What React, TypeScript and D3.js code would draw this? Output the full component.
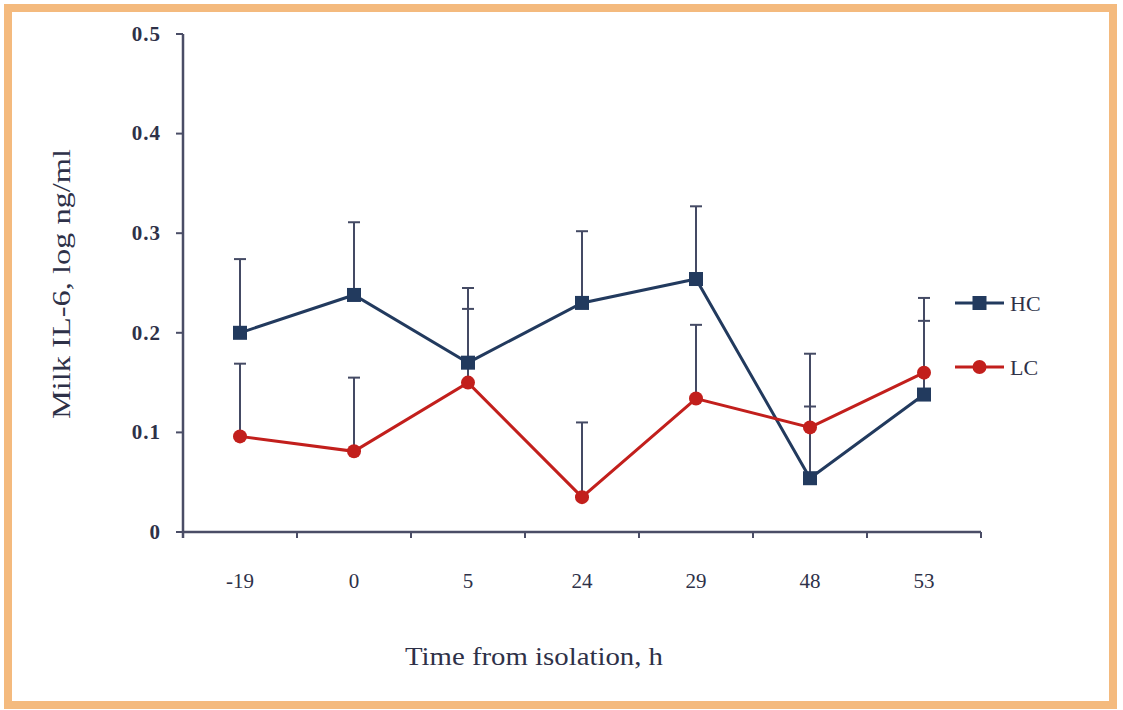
import React from "react";
import * as d3 from "d3";

// Sampling times (h from isolation)
const times = ["-19", "0", "5", "24", "29", "48", "53"];

// Group means, log ng/ml
const hcMean = [0.2, 0.238, 0.17, 0.23, 0.254, 0.054, 0.138];
const lcMean = [0.096, 0.081, 0.15, 0.035, 0.134, 0.105, 0.16];

// Upper end of each error bar (mean + SE)
const hcUpper = [0.274, 0.311, 0.245, 0.302, 0.327, 0.126, 0.212];
const lcUpper = [0.169, 0.155, 0.224, 0.11, 0.208, 0.179, 0.235];

const yTicks = [0, 0.1, 0.2, 0.3, 0.4, 0.5];
const seriesNames = ["HC", "LC"];

const W = 1123;
const H = 710;
const left = 183;
const right = 981;
const top = 34;
const bottom = 532;

const FONT = "'Liberation Serif', 'DejaVu Serif', serif";
const TEXT = "#2e3148";
const AXIS = "#4a4d66";
const NAVY = "#223a5e";
const RED = "#c21f1c";
const ERR = "#444a64";
const FRAME = "#f4ba7e";

export default function App() {
  const x = d3.scaleBand<string>().domain(times).range([left, right]).padding(0);
  const cx = (t: string) => (x(t) as number) + x.bandwidth() / 2;
  const y = d3.scaleLinear().domain([0, 0.5]).range([bottom, top]);

  const line = d3
    .line<number>()
    .x((_, i) => cx(times[i]))
    .y((v) => y(v));

  const series = [
    { name: seriesNames[0], mean: hcMean, upper: hcUpper, color: NAVY, shape: "square" },
    { name: seriesNames[1], mean: lcMean, upper: lcUpper, color: RED, shape: "circle" },
  ];

  const xTickPos = times.map((t) => x(t) as number).concat([right]);

  const marker = (shape: string, px: number, py: number, color: string, key: string) =>
    shape === "square" ? (
      <rect key={key} x={px - 7} y={py - 7} width={14} height={14} fill={color} />
    ) : (
      <circle key={key} cx={px} cy={py} r={7} fill={color} />
    );

  return (
    <svg
      width={W}
      height={H}
      style={{ position: "absolute", left: 0, top: 0, background: "#fff" }}
    >
      <rect x={8} y={8} width={1105} height={697} fill="#fff" stroke={FRAME} strokeWidth={8} />

      {/* y axis */}
      <line x1={left} x2={left} y1={top} y2={bottom + 6} stroke={AXIS} strokeWidth={2.5} />
      {yTicks.map((t) => (
        <g key={"y" + t}>
          <line x1={left - 7} x2={left} y1={y(t)} y2={y(t)} stroke={AXIS} strokeWidth={2} />
          <text
            x={left - 22}
            y={y(t)}
            dy="0.32em"
            textAnchor="end"
            fontFamily={FONT}
            fontSize={21}
            fontWeight="bold"
            letterSpacing={1}
            fill={TEXT}
          >
            {t === 0 ? "0" : t.toFixed(1)}
          </text>
        </g>
      ))}

      {/* x axis */}
      <line x1={left} x2={right} y1={bottom} y2={bottom} stroke={AXIS} strokeWidth={2.5} />
      {xTickPos.slice(1).map((p, i) => (
        <line key={"xt" + i} x1={p} x2={p} y1={bottom} y2={bottom + 6} stroke={AXIS} strokeWidth={2} />
      ))}
      {times.map((t) => (
        <text
          key={"xl" + t}
          x={cx(t)}
          y={588}
          textAnchor="middle"
          fontFamily={FONT}
          fontSize={21}
          fill={TEXT}
        >
          {t}
        </text>
      ))}

      <text
        x={534}
        y={665}
        textAnchor="middle"
        fontFamily={FONT}
        fontSize={25}
        textLength={258}
        lengthAdjust="spacingAndGlyphs"
        fill={TEXT}
      >
        Time from isolation, h
      </text>
      <text
        transform="translate(70,284) rotate(-90)"
        textAnchor="middle"
        fontFamily={FONT}
        fontSize={25}
        textLength={270}
        lengthAdjust="spacingAndGlyphs"
        fill={TEXT}
      >
        Milk IL-6, log ng/ml
      </text>

      {/* upward error bars */}
      {series.map((s) =>
        times.map((t, i) => (
          <g key={"e" + s.name + t}>
            <line x1={cx(t)} x2={cx(t)} y1={y(s.mean[i])} y2={y(s.upper[i])} stroke={ERR} strokeWidth={2} />
            <line x1={cx(t) - 6} x2={cx(t) + 6} y1={y(s.upper[i])} y2={y(s.upper[i])} stroke={ERR} strokeWidth={2} />
          </g>
        ))
      )}

      {/* series lines and markers */}
      {series.map((s) => (
        <g key={"s" + s.name}>
          <path d={line(s.mean) as string} fill="none" stroke={s.color} strokeWidth={3} />
          {s.mean.map((v, i) => marker(s.shape, cx(times[i]), y(v), s.color, s.name + i))}
        </g>
      ))}

      {/* legend */}
      {series.map((s, i) => {
        const ly = 303 + i * 64;
        return (
          <g key={"lg" + s.name}>
            <line x1={955} x2={1004} y1={ly} y2={ly} stroke={s.color} strokeWidth={3} />
            {marker(s.shape, 979.5, ly, s.color, "lm" + s.name)}
            <text x={1010} y={ly} dy="0.35em" fontFamily={FONT} fontSize={22} fill={TEXT}>
              {s.name}
            </text>
          </g>
        );
      })}
    </svg>
  );
}
